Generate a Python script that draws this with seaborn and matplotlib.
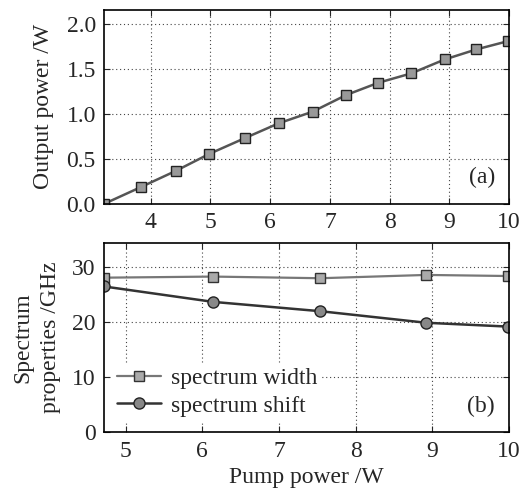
import matplotlib
matplotlib.use("Agg")
import pandas as pd
import seaborn as sns
import matplotlib.pyplot as plt

# Data
pump_a = [3.22, 3.83, 4.42, 4.98, 5.58, 6.14, 6.71, 7.27, 7.81, 8.36, 8.92, 9.45, 9.98]
output_power = [0.0, 0.185, 0.367, 0.556, 0.733, 0.896, 1.026, 1.211, 1.348, 1.452, 1.607, 1.719, 1.811]

pump_b = [4.72, 6.14, 7.54, 8.92, 9.99]
spec_width = [28.1, 28.3, 28.0, 28.6, 28.4]
spec_shift = [26.5, 23.7, 22.0, 19.9, 19.2]

df_a = pd.DataFrame({'pump': pump_a, 'power': output_power})
df_b = pd.DataFrame({'pump': pump_b * 2,
                     'value': spec_width + spec_shift,
                     'series': ['spectrum width'] * 5 + ['spectrum shift'] * 5})

sns.set_style('ticks')
plt.rcParams['font.family'] = ['Liberation Serif', 'DejaVu Serif']

fig = plt.figure(figsize=(5.26, 4.9), dpi=100)
ax1 = fig.add_axes([0.198, 0.584, 0.770, 0.396])
ax2 = fig.add_axes([0.198, 0.118, 0.770, 0.386])

grid_kw = dict(color='#444444', linestyle=(0, (1, 2.5)), linewidth=0.8)

# (a) output power
sns.lineplot(data=df_a, x='pump', y='power', ax=ax1, color='#555555', linewidth=1.8,
             marker='s', markersize=7, markerfacecolor='#999999',
             markeredgecolor='#222222', markeredgewidth=1.0)
ax1.set_xlim(3.22, 10)
ax1.set_ylim(0, 2.16)
ax1.set_xticks([4, 5, 6, 7, 8, 9, 10])
ax1.set_yticks([0.0, 0.5, 1.0, 1.5, 2.0])
ax1.set_yticklabels(['0.0', '0.5', '1.0', '1.5', '2.0'])
ax1.set_xlabel('')
ax1.set_ylabel('Output power /W', fontsize=17, labelpad=9)
ax1.grid(True, **grid_kw)
ax1.text(0.965, 0.08, '(a)', transform=ax1.transAxes, ha='right', va='bottom', fontsize=17)

# (b) spectrum properties
sns.lineplot(data=df_b[df_b.series == 'spectrum width'], x='pump', y='value', ax=ax2,
             color='#777777', linewidth=1.6, marker='s', markersize=7,
             markerfacecolor='#aaaaaa', markeredgecolor='#333333', markeredgewidth=1.0,
             label='spectrum width')
sns.lineplot(data=df_b[df_b.series == 'spectrum shift'], x='pump', y='value', ax=ax2,
             color='#333333', linewidth=1.8, marker='o', markersize=8,
             markerfacecolor='#888888', markeredgecolor='#222222', markeredgewidth=1.0,
             label='spectrum shift')
ax2.set_xlim(4.72, 10)
ax2.set_ylim(0, 34.4)
ax2.set_xticks([5, 6, 7, 8, 9, 10])
ax2.set_yticks([0, 10, 20, 30])
ax2.set_xlabel('Pump power /W', fontsize=17)
ax2.set_ylabel('Spectrum\nproperties /GHz', fontsize=17, linespacing=1.4, labelpad=8)
ax2.grid(True, **grid_kw)
ax2.text(0.965, 0.08, '(b)', transform=ax2.transAxes, ha='right', va='bottom', fontsize=17)
leg = ax2.legend(loc='lower left', bbox_to_anchor=(-0.01, -0.005), fontsize=17, frameon=True,
                 handlelength=1.9, handletextpad=0.4, borderpad=0.2, labelspacing=0.25,
                 fancybox=False)
leg.get_frame().set_edgecolor('none')
leg.get_frame().set_facecolor('white')
leg.get_frame().set_alpha(1.0)

for ax in (ax1, ax2):
    ax.tick_params(direction='in', length=4, width=0.8, labelsize=17, top=True, right=True,
                   pad=6)
    for s in ax.spines.values():
        s.set_linewidth(1.2)
        s.set_color('black')

fig.savefig('out.png', dpi=100)
plt.close(fig)
